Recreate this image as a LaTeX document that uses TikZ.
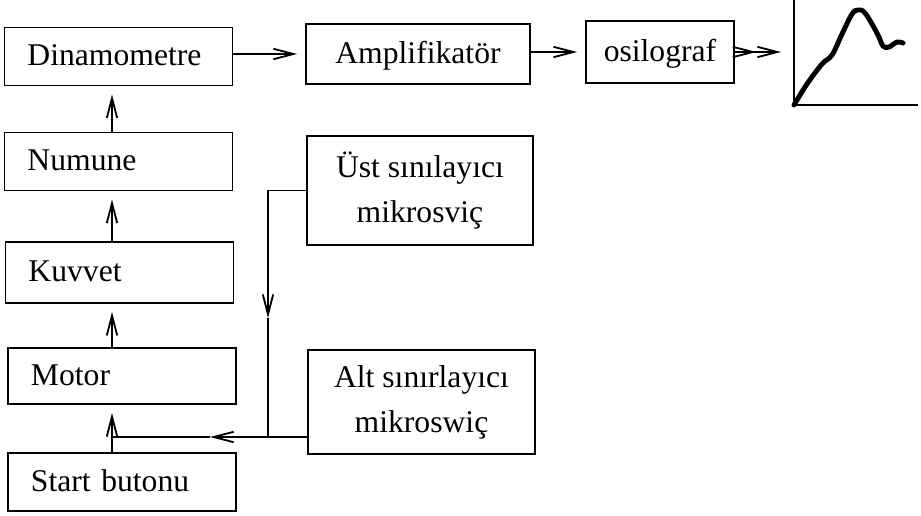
\documentclass[tikz,border=0pt]{standalone}
\usepackage{fontspec}
\setmainfont{Liberation Serif}
\usetikzlibrary{arrows.meta}

\begin{document}
\begin{tikzpicture}[x=0.025cm, y=-0.025cm,
		>={Straight Barb[length=0.5cm,width=0.26cm]},
		every node/.style={font=\fontsize{22.5}{32}\selectfont},
		oneline/.style={text height=17pt, text depth=4pt},
		leftbox/.style={draw, oneline, line width=1.3pt, text width=4.55cm, inner xsep=0.575cm, minimum height=1.45cm, align=left},
		rightbox/.style={draw, line width=1.3pt, minimum height=1.5cm, align=center},
		link/.style={->, line width=1.3pt, shorten >=0.2cm}]
				\useasboundingbox (0,0) rectangle (921,515);
				
				% Left column
				\node[leftbox] (dina) at (118.5,56.5) {Dinamometre};
				\node[leftbox] (num) at (118.5,161.5) {Numune};
				\node[leftbox, minimum height=1.52cm] (kuv) at (119.5,272.5) {Kuvvet};
				\node[leftbox, minimum height=1.4cm] (mot) at (122,376) {Motor};
				\node[leftbox] (start) at (122,482) {Start butonu};
				
				% Top row
				\node[rightbox, oneline, minimum width=5.6cm] (amp) at (418,54) {Amplifikatör};
				\node[rightbox, oneline, minimum width=3.7cm, minimum height=1.55cm] (osc) at (660,52) {osilograf};
				
				% Limit switches
				\node[rightbox, minimum width=5.65cm, minimum height=2.72cm] (ust) at (420,190.5) {Üst sınılayıcı\\mikrosviç};
				\node[rightbox, minimum width=5.67cm, minimum height=2.6cm] (alt) at (421.5,402) {Alt sınırlayıcı\\mikroswiç};
				
				% Helper points
				\coordinate (spine) at (112,0);
				\coordinate (down) at (268,318);
				\coordinate (join) at (268,437);
				\coordinate (back) at (210,437);
				\coordinate (screen) at (781,0);
				
				% Arrows up the column
				\draw[link] (start.north -| spine) -- (mot.south -| spine);
				\draw[link] (mot.north -| spine) -- (kuv.south -| spine);
				\draw[link] (kuv.north -| spine) -- (num.south -| spine);
				\draw[link] (num.north -| spine) -- (dina.south -| spine);
				
				% Arrows along the top
				\draw[link] (dina.east |- amp) -- (amp.west);
				\draw[link] (amp.east |- osc) -- (osc.west);
				\draw[->>, line width=1.3pt] (osc.east) -- (screen |- osc.east);
				
				% Switch feedback
				\draw[->, line width=1.3pt] (ust.west) -| (down);
				\draw[line width=1.3pt] (down) -- (join);
				\draw[->, line width=1.3pt] (alt.west |- join) -- (back);
				\draw[line width=1.3pt] (back) -- (spine |- join);
				
				% Oscillograph trace
				\draw[line width=1.4pt] (794,0) -- (794,105) -- (918,105);
				\draw[line width=3.5pt, line cap=round, line join=round] plot[smooth, tension=0.6] coordinates {(794,105) (807,84) (822,64) (832,55) (842,34) (852,14) (858,10) (865,13) (877,33) (883,46) (889,47) (897,42) (903,43)};
			\end{tikzpicture}
\end{document}
